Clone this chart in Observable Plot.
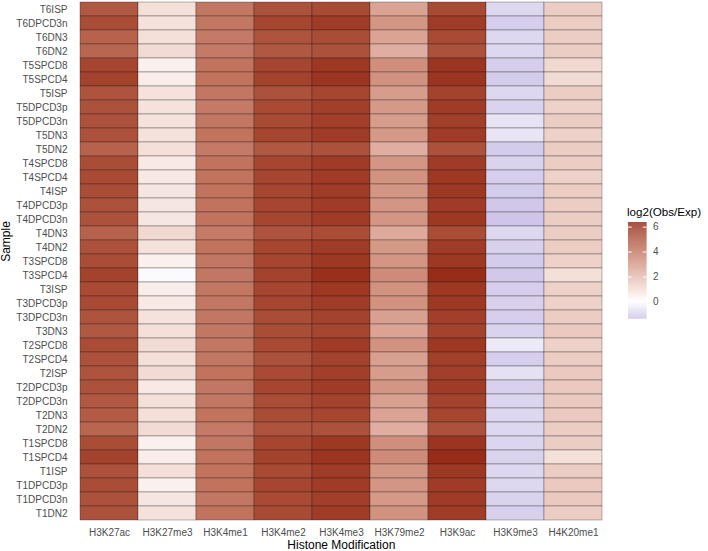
<!DOCTYPE html>
<html>
<head>
<meta charset="utf-8">
<script src="https://cdn.jsdelivr.net/npm/d3@7"></script>
<script src="https://cdn.jsdelivr.net/npm/@observablehq/plot@0.6"></script>
<style>
  html, body { margin: 0; padding: 0; background: white; }
  #wrap { position: relative; width: 708px; height: 551px; font-family: "Liberation Sans", Arial, sans-serif; }
  #legtitle { position: absolute; left: 627px; top: 205.5px; font-size: 11.6px; line-height: 1; color: #000; white-space: nowrap; }
  #leg { position: absolute; left: 628px; top: 221.7px; color: #4d4d4d; }
</style>
</head>
<body>
<div id="wrap"><div id="legtitle">log2(Obs/Exp)</div><div id="leg"></div></div>
<script>
const samples = ["T6ISP","T6DPCD3n","T6DN3","T6DN2","T5SPCD8","T5SPCD4","T5ISP","T5DPCD3p","T5DPCD3n","T5DN3","T5DN2","T4SPCD8","T4SPCD4","T4ISP","T4DPCD3p","T4DPCD3n","T4DN3","T4DN2","T3SPCD8","T3SPCD4","T3ISP","T3DPCD3p","T3DPCD3n","T3DN3","T2SPCD8","T2SPCD4","T2ISP","T2DPCD3p","T2DPCD3n","T2DN3","T2DN2","T1SPCD8","T1SPCD4","T1ISP","T1DPCD3p","T1DPCD3n","T1DN2"];
const modifications = ["H3K27ac","H3K27me3","H3K4me1","H3K4me2","H3K4me3","H3K79me2","H3K9ac","H3K9me3","H4K20me1"];

const H3K27ac  = [4.8,5.1,4.5,4.4,5.3,5.4,4.9,5.0,5.0,5.0,4.5,5.1,5.2,5.1,5.0,5.0,4.5,5.0,5.1,5.4,5.2,5.2,4.9,4.8,5.1,5.0,4.9,5.0,4.8,4.7,4.4,5.1,5.4,5.0,5.1,5.0,5.0];
const H3K27me3 = [0.9,0.8,0.9,1.0,0.4,0.5,0.8,0.8,0.8,0.8,0.9,0.6,0.6,0.7,0.7,0.7,1.1,0.8,0.4,-0.1,0.5,0.6,0.8,0.9,1.0,0.9,1.0,0.6,0.9,0.9,1.0,0.4,0.5,0.9,0.4,0.7,0.8];
const H3K4me1  = [3.9,3.9,3.8,3.8,4.0,4.0,3.9,3.8,3.9,4.0,3.8,4.0,4.0,4.0,4.0,4.0,3.8,4.0,3.9,3.9,3.9,3.9,3.9,3.9,3.9,3.9,4.0,3.9,3.9,4.0,3.8,3.9,4.0,4.0,4.0,3.9,4.0];
const H3K4me2  = [5.0,5.3,4.9,4.8,5.3,5.4,5.0,5.2,5.2,5.3,4.8,5.3,5.3,5.3,5.3,5.3,4.9,5.3,5.3,5.4,5.3,5.3,5.1,5.1,5.2,5.0,5.2,5.3,5.1,5.1,4.9,5.3,5.4,5.2,5.3,5.2,5.2];
const H3K4me3  = [5.2,5.6,5.1,5.0,5.7,5.8,5.3,5.5,5.5,5.6,5.0,5.6,5.6,5.6,5.6,5.6,5.1,5.6,5.7,5.9,5.7,5.6,5.4,5.3,5.6,5.4,5.5,5.6,5.4,5.3,5.0,5.7,5.8,5.6,5.6,5.5,5.6];
const H3K79me2 = [2.6,3.0,2.6,2.3,3.2,3.1,2.8,2.9,2.8,2.9,2.3,3.0,3.1,3.0,3.0,3.0,2.4,2.9,3.0,3.3,3.1,3.1,2.7,2.6,3.1,2.7,2.8,3.0,2.7,2.6,2.3,3.2,3.3,3.0,3.0,2.9,3.1];
const H3K9ac   = [5.2,5.6,5.2,5.0,5.8,5.8,5.4,5.6,5.5,5.6,5.0,5.6,5.7,5.7,5.6,5.7,5.1,5.6,5.7,6.0,5.7,5.7,5.5,5.4,5.7,5.5,5.5,5.6,5.4,5.3,5.0,5.8,6.0,5.7,5.6,5.6,5.6];
const H3K9me3  = [-0.85,-1.05,-0.85,-0.85,-1.05,-1.1,-0.85,-0.95,-0.6,-0.55,-1.1,-0.95,-1.05,-1.1,-1.2,-1.25,-0.85,-1.0,-1.1,-1.15,-1.05,-1.0,-1.05,-0.95,-0.45,-1.05,-0.65,-1.0,-0.9,-0.85,-0.85,-0.9,-0.95,-0.85,-0.85,-0.95,-1.0];
const H4K20me1 = [1.4,1.4,1.4,1.4,1.1,1.0,1.4,1.3,1.4,1.3,1.4,1.4,1.3,1.4,1.4,1.4,1.4,1.4,1.3,0.9,1.3,1.3,1.4,1.5,1.3,1.4,1.5,1.5,1.5,1.5,1.4,1.4,0.9,1.4,1.5,1.5,1.4];
const legendTicks = [0, 2, 4, 6];

const series = {H3K27ac, H3K27me3, H3K4me1, H3K4me2, H3K4me3, H3K79me2, H3K9ac, H3K9me3, H4K20me1};
const table = [];
for (const m of modifications) series[m].forEach((v, i) => table.push({sample: samples[i], mod: m, value: v}));

const colorScale = {type: "linear", domain: [-1.38, 0, 6.37], range: ["#c9bfe6", "#ffffff", "#8e1b0c"], interpolate: "lab"};
const font = "Liberation Sans, Arial, sans-serif";

const chart = Plot.plot({
  width: 708, height: 551,
  marginLeft: 78, marginRight: 104.3, marginTop: 2, marginBottom: 30.3,
  style: {fontFamily: font, fontSize: "10px", background: "transparent", color: "#4d4d4d", overflow: "visible"},
  x: {domain: modifications, padding: 0, label: null},
  y: {domain: samples, padding: 0, label: null},
  color: colorScale,
  marks: [
    Plot.cell(table, {x: "mod", y: "sample", fill: "value", stroke: "#1a1a1a", strokeOpacity: 0.5, strokeWidth: 0.6, inset: 0}),
    Plot.axisX({tickSize: 0, tickPadding: 7.3, fontSize: 10, label: null}),
    Plot.axisY({tickSize: 0, tickPadding: 11, fontSize: 10, label: null}),
    Plot.text(["Histone Modification"], {frameAnchor: "bottom", lineAnchor: "middle", dy: 23.5, fontSize: 12, fill: "black"}),
    Plot.text(["Sample"], {frameAnchor: "left", lineAnchor: "middle", dx: -72, rotate: -90, fontSize: 12, fill: "black"})
  ]
});
document.getElementById("wrap").prepend(chart);
chart.style.position = "absolute"; chart.style.left = "0px"; chart.style.top = "0px";

const step = 0.02;
const legSteps = d3.range(-1.38, 6.37, step);
const leg = Plot.plot({
  width: 60, height: 96.6,
  marginTop: 0, marginBottom: 0, marginLeft: 0, marginRight: 41.5,
  style: {fontFamily: font, fontSize: "10px", background: "transparent", overflow: "visible", color: "#4d4d4d"},
  x: {domain: [0, 1], axis: null},
  y: {domain: [-1.38, 6.37], axis: null},
  color: colorScale,
  marks: [
    Plot.rect(legSteps, {x1: 0, x2: 1, y1: d => d, y2: d => Math.min(d + step + 0.005, 6.37), fill: d => d + step / 2}),
    Plot.ruleY(legendTicks, {x1: 0, x2: 0.2, stroke: "white", strokeWidth: 1}),
    Plot.ruleY(legendTicks, {x1: 0.8, x2: 1, stroke: "white", strokeWidth: 1}),
    Plot.axisY(legendTicks, {anchor: "right", tickSize: 0, tickPadding: 6, fontSize: 10, label: null})
  ]
});
document.getElementById("leg").appendChild(leg);
</script>
</body>
</html>
